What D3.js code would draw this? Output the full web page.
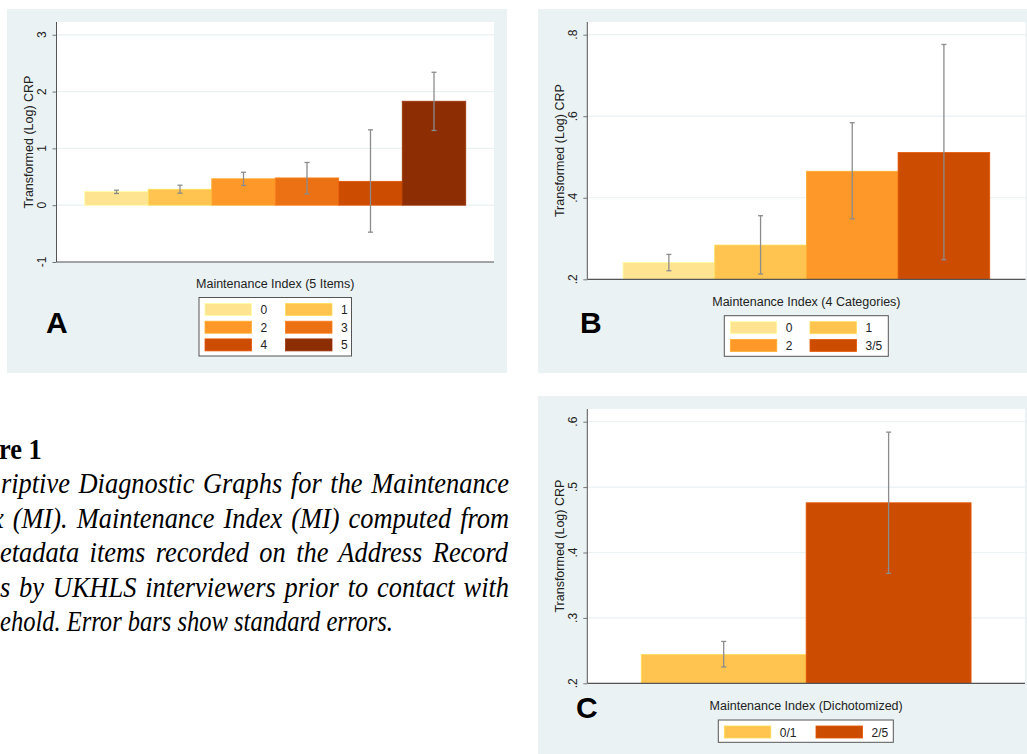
<!DOCTYPE html>
<html>
<head>
<meta charset="utf-8">
<script src="https://cdn.jsdelivr.net/npm/d3@7"></script>
<style>
  body { margin: 0; background: #fff; }
  svg { display: block; }
</style>
</head>
<body>
<script>
// Panel A: Maintenance Index (5 items)
var catsA = ["0", "1", "2", "3", "4", "5"];
var meanA = [0.24, 0.28, 0.465, 0.48, 0.42, 1.83];
var loA = [0.206, 0.211, 0.347, 0.20, -0.475, 1.315];
var hiA = [0.264, 0.352, 0.58, 0.752, 1.327, 2.34];
var ticksA = [-1, 0, 1, 2, 3];
var colorsA = ["#fee391", "#fec44f", "#fe9929", "#ec7014", "#cc4c02", "#8c2d04"];

// Panel B: Maintenance Index (4 categories)
var catsB = ["0", "1", "2", "3/5"];
var meanB = [0.241, 0.284, 0.465, 0.511];
var loB = [0.221, 0.213, 0.348, 0.248];
var hiB = [0.261, 0.356, 0.584, 0.776];
var ticksB = [0.2, 0.4, 0.6, 0.8];
var colorsB = ["#fee391", "#fec44f", "#fe9929", "#cc4c02"];

// Panel C: Maintenance Index (dichotomized)
var catsC = ["0/1", "2/5"];
var meanC = [0.244, 0.476];
var loC = [0.225, 0.368];
var hiC = [0.264, 0.584];
var ticksC = [0.2, 0.3, 0.4, 0.5, 0.6];
var colorsC = ["#fec44f", "#cc4c02"];

var bg = "rgb(234,242,243)";
var sans = "'Liberation Sans', Arial, sans-serif";
var serif = "'Liberation Serif', 'Times New Roman', serif";

var svg = d3.select("body").append("svg")
    .attr("width", 1027)
    .attr("height", 754);

function fmt(d) {
    return String(d).replace(/^0\./, ".").replace(/^-0\./, "-.");
}

function drawPanel(p) {
    var g = svg.append("g");

    g.append("rect")
        .attr("x", p.box[0]).attr("y", p.box[1])
        .attr("width", p.box[2] - p.box[0]).attr("height", p.box[3] - p.box[1])
        .attr("fill", bg);

    g.append("rect")
        .attr("x", p.plot[0]).attr("y", p.plot[1])
        .attr("width", p.plot[2] - p.plot[0]).attr("height", p.plot[3] - p.plot[1])
        .attr("fill", "#fff");

    var x = d3.scaleBand()
        .domain(p.cats)
        .range([p.plot[0], p.plot[2]])
        .paddingInner(0)
        .paddingOuter(p.outer);

    var y = d3.scaleLinear()
        .domain(p.yDomain)
        .range([p.plot[3], p.plot[1]]);

    // grid lines
    g.selectAll(".grid")
        .data(p.ticks)
        .enter().append("line")
        .attr("x1", p.plot[0]).attr("x2", p.plot[2])
        .attr("y1", d => y(d)).attr("y2", d => y(d))
        .attr("stroke", bg)
        .attr("stroke-width", 1.2);

    var rows = p.cats.map((c, i) => ({ c: c, m: p.mean[i], lo: p.lo[i], hi: p.hi[i], col: p.colors[i] }));

    g.selectAll(".bar")
        .data(rows)
        .enter().append("rect")
        .attr("x", d => x(d.c))
        .attr("width", x.bandwidth())
        .attr("y", d => y(Math.max(d.m, p.base)))
        .attr("height", d => Math.abs(y(d.m) - y(p.base)))
        .attr("fill", d => d.col)
        .attr("stroke", d => d3.color(d.col).brighter(0.35))
        .attr("stroke-width", 0.8);

    // error bars
    var eb = g.selectAll(".err")
        .data(rows)
        .enter().append("g")
        .attr("stroke", "#8c8c8c")
        .attr("stroke-width", 1.3);
    eb.append("line")
        .attr("x1", d => x(d.c) + x.bandwidth() / 2)
        .attr("x2", d => x(d.c) + x.bandwidth() / 2)
        .attr("y1", d => y(d.lo)).attr("y2", d => y(d.hi));
    [ "lo", "hi" ].forEach(k => {
        eb.append("line")
            .attr("x1", d => x(d.c) + x.bandwidth() / 2 - 2.5)
            .attr("x2", d => x(d.c) + x.bandwidth() / 2 + 2.5)
            .attr("y1", d => y(d[k])).attr("y2", d => y(d[k]));
    });

    // y axis
    var yAxis = d3.axisLeft(y)
        .tickValues(p.ticks)
        .tickSize(4)
        .tickPadding(0)
        .tickFormat(() => "");
    var ya = g.append("g")
        .attr("transform", "translate(" + p.plot[0] + ",0)")
        .call(yAxis);
    ya.select(".domain").remove();
    ya.selectAll(".tick line").attr("stroke", "#777");

    g.selectAll(".ylab")
        .data(p.ticks)
        .enter().append("text")
        .attr("transform", d => "translate(" + p.tickLabelX + "," + y(d) + ") rotate(-90)")
        .attr("text-anchor", "middle")
        .attr("font-family", sans)
        .attr("font-size", 12)
        .attr("fill", "#222")
        .text(fmt);

    g.append("line")
        .attr("x1", p.plot[0]).attr("x2", p.plot[0])
        .attr("y1", p.plot[1]).attr("y2", p.plot[3])
        .attr("stroke", "#555").attr("stroke-width", 1);
    g.append("line")
        .attr("x1", p.plot[0]).attr("x2", p.plot[2])
        .attr("y1", p.plot[3]).attr("y2", p.plot[3])
        .attr("stroke", "#555").attr("stroke-width", 1.2);

    // titles
    g.append("text")
        .attr("transform", "translate(" + p.yTitleX + "," + (p.plot[1] + p.plot[3]) / 2 + ") rotate(-90)")
        .attr("text-anchor", "middle")
        .attr("font-family", sans)
        .attr("font-size", 12.5)
        .attr("fill", "#222")
        .text("Transformed (Log) CRP");

    g.append("text")
        .attr("x", (p.plot[0] + p.plot[2]) / 2)
        .attr("y", p.xTitleY)
        .attr("text-anchor", "middle")
        .attr("font-family", sans)
        .attr("font-size", 12.5)
        .attr("fill", "#222")
        .text(p.xTitle);

    // legend
    var L = p.legend;
    g.append("rect")
        .attr("x", L.x).attr("y", L.y)
        .attr("width", L.w).attr("height", L.h)
        .attr("fill", "#fff")
        .attr("stroke", "#555")
        .attr("stroke-width", 1);
    var items = g.selectAll(".leg")
        .data(rows)
        .enter().append("g")
        .attr("transform", (d, i) => "translate(" + (L.x + 6 + (i % L.cols) * L.colW) + "," + (L.y + 6 + Math.floor(i / L.cols) * 17.7) + ")");
    items.append("rect")
        .attr("width", 46.5).attr("height", 12)
        .attr("fill", d => d.col)
        .attr("stroke", d => d3.color(d.col).brighter(0.35))
        .attr("stroke-width", 0.8);
    items.append("text")
        .attr("x", 55.5).attr("y", 10.5)
        .attr("font-family", sans)
        .attr("font-size", 12)
        .attr("fill", "#222")
        .text(d => d.c);

    g.append("text")
        .attr("x", p.tag[0]).attr("y", p.tag[1])
        .attr("font-family", sans)
        .attr("font-weight", "bold")
        .attr("font-size", 30)
        .attr("fill", "#000")
        .text(p.tagText);
}

drawPanel({
    cats: catsA, mean: meanA, lo: loA, hi: hiA, ticks: ticksA, colors: colorsA,
    box: [7, 9, 507, 373], plot: [56.5, 22, 494, 262],
    yDomain: [-1, 3.225], base: 0, outer: 0.445,
    tickLabelX: 46, yTitleX: 33, xTitleY: 288, xTitle: "Maintenance Index (5 Items)",
    legend: { x: 199, y: 297.5, w: 152.5, h: 58.5, cols: 2, colW: 80.5 },
    tag: [46, 333], tagText: "A"
});

drawPanel({
    cats: catsB, mean: meanB, lo: loB, hi: hiB, ticks: ticksB, colors: colorsB,
    box: [538, 9, 1027, 373], plot: [587.3, 22, 1025.5, 279.3],
    yDomain: [0.2, 0.8311], base: 0.2, outer: 0.39,
    tickLabelX: 577, yTitleX: 564, xTitleY: 306, xTitle: "Maintenance Index (4 Categories)",
    legend: { x: 724.3, y: 315.7, w: 164, h: 40.6, cols: 2, colW: 79.7 },
    tag: [580, 333], tagText: "B"
});

drawPanel({
    cats: catsC, mean: meanC, lo: loC, hi: hiC, ticks: ticksC, colors: colorsC,
    box: [538, 396, 1027, 754], plot: [587.3, 409, 1025, 683.3],
    yDomain: [0.2, 0.6194], base: 0.2, outer: 0.327,
    tickLabelX: 577, yTitleX: 564, xTitleY: 710, xTitle: "Maintenance Index (Dichotomized)",
    legend: { x: 718.3, y: 720, w: 175, h: 22.3, cols: 2, colW: 91.7 },
    tag: [576, 718], tagText: "C"
});

// caption (cropped at the left edge of the page); narrowed to look like the original face
var capLines = [
    { t: "riptive Diagnostic Graphs for the Maintenance", x: 1, y: 493.5, end: 509 },
    { t: "x (MI). Maintenance Index (MI) computed from", x: -8, y: 528, end: 509 },
    { t: "etadata items recorded on the Address Record", x: 0, y: 562, end: 508 },
    { t: "s by UKHLS interviewers prior to contact with", x: 0, y: 597, end: 509 },
    { t: "ehold. Error bars show standard errors.", x: 0, y: 631, end: 393 }
];
var sx = 0.91;
var cap = svg.append("g").attr("transform", "scale(" + sx + ",1)");

cap.append("text")
    .attr("x", -1 / sx).attr("y", 459)
    .attr("font-family", serif)
    .attr("font-weight", "bold")
    .attr("font-size", 29)
    .attr("fill", "#000")
    .text("re 1");

cap.selectAll(".cap")
    .data(capLines)
    .enter().append("text")
    .attr("x", d => d.x / sx).attr("y", d => d.y)
    .attr("font-family", serif)
    .attr("font-style", "italic")
    .attr("font-size", 29)
    .attr("fill", "#000")
    .text(d => d.t)
    .each(function(d) {
        // justify by widening the word gaps, or squeeze if too long
        var target = (d.end - d.x) / sx;
        var natural = this.getComputedTextLength();
        var gaps = d.t.split(" ").length - 1;
        if (natural < target && gaps > 0) {
            d3.select(this).attr("word-spacing", (target - natural) / gaps);
        } else if (natural > target) {
            d3.select(this)
                .attr("textLength", target)
                .attr("lengthAdjust", "spacingAndGlyphs");
        }
    });
</script>
</body>
</html>
